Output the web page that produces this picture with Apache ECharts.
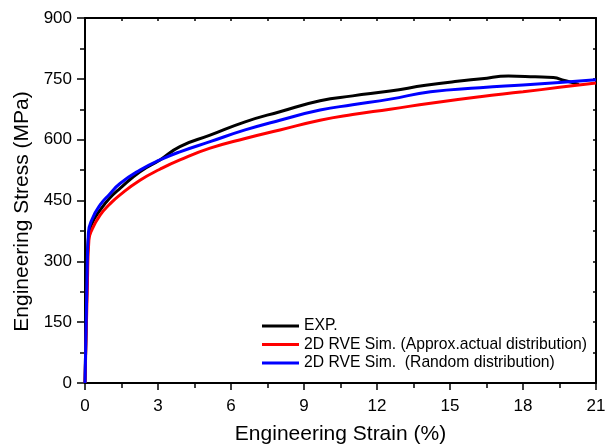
<!DOCTYPE html>
<html>
<head>
<meta charset="utf-8">
<script src="https://cdn.jsdelivr.net/npm/echarts@6/dist/echarts.min.js"></script>
<style>
html,body{margin:0;padding:0;background:#fff;}
#chart{width:605px;height:446px;}
</style>
</head>
<body>
<div id="chart"></div>
<script>
// ---- data ----
var expStrain = [0, 0.08, 0.15, 0.3, 0.62, 1.0, 1.44, 2.26, 3.08, 3.9, 5.14, 6.58, 8.01, 9.66, 11.0, 12.54, 14.0, 15.3, 16.3, 17.4, 18.5, 19.25, 19.7, 20.07, 20.3];
var expStress = [0, 250, 365, 395, 426, 455, 480, 521, 550, 583, 611, 644, 669, 696, 708, 720, 734, 744, 750, 757, 755, 753, 746, 740, 736];

var approxStrain = [0, 0.1, 0.16, 0.3, 0.62, 1.0, 1.44, 2.26, 3.08, 3.9, 5.14, 6.58, 8.01, 9.66, 11.0, 12.54, 14.2, 16.23, 18.0, 19.5, 21.0];
var approxStress = [0, 250, 352, 380, 414, 440, 464, 500, 527, 550, 579, 603, 624, 648, 662, 675, 690, 706, 718, 729, 740];

var randomStrain = [0, 0.08, 0.14, 0.3, 0.62, 1.0, 1.44, 2.26, 3.08, 3.9, 5.14, 6.58, 8.01, 9.66, 11.0, 12.54, 14.2, 16.23, 18.0, 19.5, 21.0];
var randomStress = [0, 250, 370, 405, 439, 465, 492, 525, 550, 570, 595, 624, 648, 673, 686, 700, 718, 728, 735, 741, 748];

var seriesNames = ['EXP.', '2D RVE Sim. (Approx.actual distribution)', '2D RVE Sim.  (Random distribution)'];
var xTitle = 'Engineering Strain (%)';
var yTitle = 'Engineering Stress (MPa)';

function pairs(xs, ys){ return xs.map(function(x,i){ return [x, ys[i]]; }); }

var font = '"Liberation Sans", Arial, sans-serif';
var axisColor = '#000';

var chart = echarts.init(document.getElementById('chart'), null, {renderer:'canvas'});

function baseX(extra){
  return Object.assign({
    type:'value', min:0, max:21, interval:3,
    splitLine:{show:false},
    axisLine:{show:true, onZero:false, lineStyle:{color:axisColor, width:2}},
  }, extra);
}
function baseY(extra){
  return Object.assign({
    type:'value', min:0, max:900, interval:150,
    splitLine:{show:false},
    axisLine:{show:true, onZero:false, lineStyle:{color:axisColor, width:2}},
  }, extra);
}

var option = {
  backgroundColor:'#fff',
  animation:false,
  grid:{left:85, right:9, top:18, bottom:63, containLabel:false, outerBoundsMode:'none'},
  legend:{
    orient:'vertical', left:262, top:318, padding:0,
    itemWidth:37, itemHeight:3, itemGap:2.5,
    icon:'rect',
    textStyle:{fontFamily:font, fontSize:15.7, color:'#000', lineHeight:16},
    data:seriesNames
  },
  xAxis:[
    baseX({
      position:'bottom',
      name:xTitle, nameLocation:'middle', nameGap:41,
      nameTextStyle:{fontFamily:font, fontSize:21, color:'#000'},
      axisTick:{show:true, inside:false, length:7, lineStyle:{color:axisColor, width:1.5}},
      minorTick:{show:true, splitNumber:2, length:5, lineStyle:{color:axisColor, width:1.5}},
      axisLabel:{fontFamily:font, fontSize:17, color:'#000', margin:15}
    }),
    baseX({
      position:'top',
      axisTick:{show:true, inside:true, length:3, lineStyle:{color:axisColor, width:1.5}},
      minorTick:{show:true, splitNumber:2, length:3, lineStyle:{color:axisColor, width:1.5}},
      axisLabel:{show:false}
    })
  ],
  yAxis:[
    baseY({
      position:'left',
      name:yTitle, nameLocation:'middle', nameGap:50, nameRotate:90,
      nameTextStyle:{fontFamily:font, fontSize:21, color:'#000', padding:[0,22,0,0]},
      axisTick:{show:true, inside:false, length:8, lineStyle:{color:axisColor, width:1.5}},
      minorTick:{show:true, splitNumber:2, length:5, lineStyle:{color:axisColor, width:1.5}},
      axisLabel:{fontFamily:font, fontSize:17, color:'#000', margin:13}
    }),
    baseY({
      position:'right',
      axisTick:{show:true, inside:true, length:3, lineStyle:{color:axisColor, width:1.5}},
      minorTick:{show:true, splitNumber:2, length:3, lineStyle:{color:axisColor, width:1.5}},
      axisLabel:{show:false}
    })
  ],
  series:[
    {name:seriesNames[0], type:'line', xAxisIndex:0, yAxisIndex:0, data:pairs(expStrain, expStress),
     showSymbol:false, symbol:'none', smooth:0.5, lineStyle:{color:'#000000', width:3}, itemStyle:{color:'#000000'}, z:2},
    {name:seriesNames[1], type:'line', xAxisIndex:0, yAxisIndex:0, data:pairs(approxStrain, approxStress),
     showSymbol:false, symbol:'none', smooth:0.5, lineStyle:{color:'#ff0000', width:3}, itemStyle:{color:'#ff0000'}, z:3},
    {name:seriesNames[2], type:'line', xAxisIndex:0, yAxisIndex:0, data:pairs(randomStrain, randomStress),
     showSymbol:false, symbol:'none', smooth:0.5, lineStyle:{color:'#0000ff', width:3}, itemStyle:{color:'#0000ff'}, z:4}
  ]
};
chart.setOption(option);
</script>
</body>
</html>
